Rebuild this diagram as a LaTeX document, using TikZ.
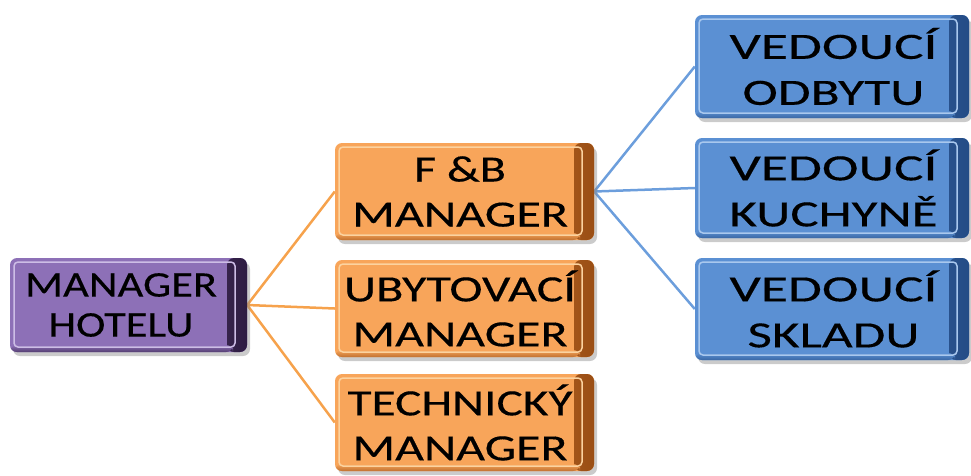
\documentclass[tikz,border=0pt]{standalone}
\usepackage{fontspec}
\usepackage{graphicx}
\setmainfont{Carlito}[FakeBold=0.3]
\usetikzlibrary{shadows,backgrounds}
\definecolor{orm}{HTML}{F8A55A}
\definecolor{ord}{HTML}{9A4E14}
\definecolor{orl}{HTML}{FCD3A0}
\definecolor{pum}{HTML}{8D70B7}
\definecolor{pud}{HTML}{2E1C42}
\definecolor{pul}{HTML}{CDBDE6}
\definecolor{blm}{HTML}{5B90D3}
\definecolor{bld}{HTML}{244C86}
\definecolor{bll}{HTML}{A9C8EE}
\definecolor{orline}{HTML}{F6A24C}
\definecolor{blline}{HTML}{6C9EDC}
\newlength\txs
\newcommand\sx[2]{\hspace*{\txs}\resizebox{#1pt}{\height}{#2}}
\tikzset{
  bx/.style n args={3}{rectangle, rounded corners=7pt, fill=#1, inner sep=0pt, align=center,
    drop shadow={shadow xshift=3pt, shadow yshift=-4pt, fill=black!45, opacity=0.45},
    path picture={
      \shade[left color=#1, right color=#2] ([xshift=-20pt]path picture bounding box.north east) rectangle (path picture bounding box.south east);
      \shade[top color=#1, bottom color=#2!60!#1] ([yshift=7pt]path picture bounding box.south west) rectangle ([xshift=-14pt]path picture bounding box.south east);
      \draw[#3, line width=1.5pt, rounded corners=4pt] ([shift={(4pt,-4pt)}]path picture bounding box.north west) rectangle ([shift={(-12pt,5pt)}]path picture bounding box.south east);
    }},
  purplebox/.style={bx={pum}{pud}{pul}, font=\fontsize{36}{40}\selectfont\setlength\txs{-15pt}},
  orangebox/.style={bx={orm}{ord}{orl}, minimum width=259pt, minimum height=97pt, font=\fontsize{37}{45}\selectfont\setlength\txs{-9pt}},
  bluebox/.style={bx={blm}{bld}{bll}, minimum width=274pt, font=\fontsize{37}{46}\selectfont\setlength\txs{3pt}},
  orconn/.style={draw=orline, line width=2.5pt},
  blconn/.style={draw=blline, line width=2.5pt}
}
\begin{document}
\begin{tikzpicture}[x=1pt,y=-1pt]
\useasboundingbox (0,0) rectangle (971,475);
\node[purplebox, minimum width=237pt, minimum height=94pt] (mh) at (128.5,305) {\sx{192}{MANAGER}\\\sx{145}{HOTELU}};
\node[orangebox] (fb) at (464.5,191.5) {\sx{92}{F \&B}\\\sx{216}{MANAGER}};
\node[orangebox] (ub) at (464.5,308.5) {\sx{232}{UBYTOVACÍ}\\\sx{215}{MANAGER}};
\node[orangebox] (te) at (464.5,422.5) {\sx{225}{TECHNICKÝ}\\\sx{215}{MANAGER}};
\node[bluebox, minimum height=103pt] (vo) at (832,66.5) {\sx{208}{VEDOUCÍ}\\\sx{182}{ODBYTU}};
\node[bluebox, minimum height=100pt] (vk) at (832,188) {\sx{208}{VEDOUCÍ}\\\sx{208}{KUCHYNĚ}};
\node[bluebox, minimum height=102pt] (vs) at (832,309) {\sx{208}{VEDOUCÍ}\\\sx{172}{SKLADU}};
\begin{scope}[on background layer]
\draw[orconn] (mh.east) -- (fb.west);
\draw[orconn] (mh.east) -- (ub.west);
\draw[orconn] (mh.east) -- (te.west);
\draw[blconn] (fb.east) -- (vo.west);
\draw[blconn] (fb.east) -- (vk.west);
\draw[blconn] (fb.east) -- (vs.west);
\end{scope}
\end{tikzpicture}
\end{document}
